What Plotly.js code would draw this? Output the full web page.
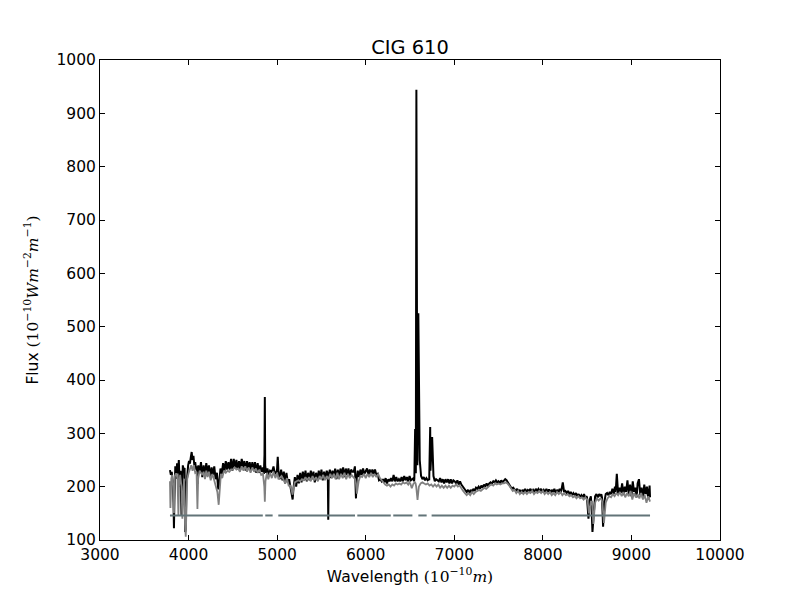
<!DOCTYPE html>
<html>
<head>
<meta charset="utf-8">
<script src="https://cdn.plot.ly/plotly-3.0.1.min.js"></script>
<style>html,body{margin:0;padding:0;background:#fff;}#chart{width:800px;height:600px;}</style>
</head>
<body>
<div id="chart"></div>
<script>
// Observed spectrum (black)
const obsWave = [3790,3800,3810,3820,3830,3835,3840,3850,3860,3870,3880,3890,3900,3910,3920,3925,3935,3945,3955,3962,3968,3975,3985,3995,4005,4015,4025,4035,4045,4055,4065,4075,4085,4095,4102,4110,4125,4140,4155,4170,4185,4200,4215,4230,4245,4260,4275,4290,4305,4320,4335,4345,4360,4375,4390,4405,4420,4435,4450,4465,4480,4495,4510,4525,4540,4555,4570,4585,4600,4615,4630,4645,4660,4675,4690,4705,4720,4735,4750,4765,4780,4795,4810,4825,4840,4850,4857,4861,4865,4875,4890,4905,4920,4935,4950,4959,4970,4985,4998,5007,5015,5030,5045,5060,5075,5090,5105,5120,5135,5150,5165,5175,5185,5200,5215,5230,5245,5260,5275,5290,5305,5320,5335,5350,5365,5380,5395,5410,5425,5440,5455,5470,5485,5500,5515,5530,5545,5560,5572,5577,5582,5595,5610,5625,5640,5655,5670,5685,5700,5715,5730,5745,5760,5775,5790,5805,5820,5835,5850,5865,5878,5890,5898,5910,5925,5940,5955,5970,5985,6000,6015,6030,6045,6060,6075,6090,6105,6120,6135,6150,6165,6180,6195,6210,6225,6240,6255,6270,6285,6300,6315,6330,6345,6360,6375,6390,6405,6420,6435,6450,6465,6480,6495,6510,6525,6540,6546,6549,6552,6558,6563,6566,6572,6580,6583,6587,6594,6610,6625,6640,6655,6670,6685,6700,6714,6717,6721,6728,6731,6735,6750,6765,6780,6795,6810,6825,6840,6855,6870,6885,6900,6915,6930,6945,6960,6975,6990,7005,7020,7035,7050,7065,7080,7095,7110,7125,7140,7155,7170,7185,7200,7215,7230,7245,7260,7275,7290,7305,7320,7335,7350,7365,7380,7395,7410,7425,7440,7455,7470,7485,7500,7515,7530,7545,7560,7575,7590,7605,7620,7635,7650,7665,7680,7695,7710,7725,7740,7755,7770,7785,7800,7815,7830,7845,7860,7875,7890,7905,7920,7935,7950,7965,7980,7995,8010,8025,8040,8055,8070,8085,8100,8115,8130,8145,8160,8175,8190,8200,8210,8225,8240,8255,8270,8285,8300,8315,8330,8345,8360,8375,8390,8405,8420,8435,8450,8465,8480,8492,8498,8504,8515,8528,8542,8550,8560,8575,8590,8605,8620,8635,8650,8660,8668,8680,8695,8710,8725,8740,8755,8770,8785,8800,8814,8822,8835,8850,8865,8880,8895,8910,8925,8940,8955,8970,8985,9000,9015,9030,9045,9059,9070,9085,9100,9115,9130,9145,9160,9175,9190,9205,9210];
const obsFlux = [231,222,228,210,170,122,175,238,215,244,225,250,200,230,145,200,240,232,235,115,120,200,225,240,248,243,255,265,250,258,240,246,232,238,205,240,226,246,218,240,222,244,226,240,218,236,222,238,214,226,195,205,234,224,244,228,248,232,246,232,252,230,252,234,250,232,248,232,252,236,248,230,248,234,246,230,246,232,246,226,244,226,240,228,236,224,260,368,240,226,234,222,230,228,232,238,228,225,230,256,228,214,232,212,228,206,226,208,214,200,190,176,198,218,200,222,206,226,208,228,212,230,210,226,212,230,214,228,208,226,212,230,214,232,212,228,214,230,222,138,222,232,216,230,218,234,214,232,218,234,222,236,218,234,222,234,220,232,228,228,238,178,215,230,218,232,222,234,224,228,234,222,232,222,232,224,232,222,224,212,214,210,214,208,216,206,214,210,216,210,222,210,218,210,214,210,218,210,220,212,218,210,220,212,214,216,210,215,250,308,240,225,944,300,240,300,525,250,220,214,218,212,216,212,214,212,250,312,230,240,293,220,210,214,212,210,216,208,214,206,214,208,214,206,214,206,212,210,206,212,204,210,204,200,196,192,190,194,188,194,190,196,192,198,196,200,196,202,198,204,200,206,202,206,208,206,210,208,212,208,210,206,212,208,212,214,212,208,204,200,196,198,194,192,196,190,194,188,194,190,196,190,194,192,196,190,194,190,196,192,196,192,196,190,194,190,196,190,195,188,194,190,196,188,194,190,196,188,194,208,190,192,188,192,186,190,184,188,184,188,182,186,180,184,180,186,178,182,180,168,140,175,182,160,115,150,182,186,180,186,182,186,180,125,172,186,188,184,190,186,196,186,200,190,224,186,198,188,206,184,200,190,212,186,204,182,210,190,198,180,206,214,184,198,178,204,186,200,176,202,180,190,178];

// Model spectrum (gray)
const modWave = [3790,3795,3805,3815,3825,3835,3845,3860,3875,3885,3892,3905,3920,3930,3938,3950,3960,3968,3975,3985,4000,4015,4030,4045,4060,4075,4090,4100,4108,4125,4140,4155,4170,4185,4200,4215,4230,4250,4270,4290,4310,4325,4340,4350,4365,4380,4400,4420,4440,4460,4480,4500,4520,4540,4560,4580,4600,4620,4640,4660,4680,4700,4720,4740,4760,4780,4800,4820,4840,4855,4861,4868,4885,4900,4920,4940,4960,4980,5000,5015,5030,5050,5070,5090,5110,5130,5150,5165,5175,5185,5200,5220,5240,5260,5280,5300,5320,5340,5360,5380,5400,5420,5440,5460,5480,5500,5520,5540,5560,5580,5600,5620,5640,5660,5680,5700,5720,5740,5760,5780,5800,5820,5840,5860,5880,5890,5900,5920,5940,5960,5980,6000,6020,6040,6060,6080,6100,6120,6140,6160,6180,6200,6220,6240,6260,6280,6300,6320,6340,6360,6380,6400,6420,6440,6460,6480,6493,6505,6520,6540,6555,6563,6570,6585,6600,6620,6640,6660,6680,6700,6720,6740,6760,6780,6800,6820,6840,6860,6880,6900,6920,6940,6960,6980,7000,7020,7040,7060,7080,7100,7120,7140,7160,7180,7200,7220,7240,7260,7280,7300,7320,7340,7360,7380,7400,7420,7440,7460,7480,7500,7520,7540,7560,7580,7600,7620,7640,7660,7680,7700,7720,7740,7760,7780,7800,7820,7840,7860,7880,7900,7920,7940,7960,7980,8000,8020,8040,8060,8080,8100,8120,8140,8160,8180,8200,8220,8240,8260,8280,8300,8320,8340,8360,8380,8400,8420,8440,8460,8480,8494,8504,8520,8542,8555,8570,8590,8610,8630,8650,8662,8672,8690,8710,8730,8750,8770,8790,8810,8830,8850,8870,8890,8910,8930,8950,8970,8990,9010,9030,9050,9070,9090,9110,9130,9150,9170,9190,9210];
const modFlux = [210,160,215,222,200,150,220,225,215,147,200,222,200,140,180,215,130,106,150,215,225,232,240,230,240,226,228,158,215,230,226,222,228,214,230,218,228,212,224,210,200,190,166,200,224,216,230,226,230,228,232,232,236,232,234,228,238,230,238,228,236,226,236,228,234,226,232,222,224,200,172,210,226,214,226,216,228,216,226,214,216,220,214,206,216,202,202,192,185,196,208,210,212,210,214,212,218,212,218,210,220,212,218,210,220,214,222,212,220,214,224,216,224,214,226,214,224,216,226,214,224,216,222,218,214,206,187,210,220,218,224,216,224,218,226,218,224,218,224,216,212,206,204,202,204,200,204,202,206,204,206,204,208,206,208,204,208,205,197,206,208,206,200,175,200,206,208,206,204,206,202,204,200,204,200,204,198,202,198,202,198,202,198,202,200,204,200,202,196,192,188,184,188,184,190,186,190,192,194,192,196,198,196,200,202,204,202,206,204,206,204,206,206,208,206,202,198,192,194,188,192,186,190,186,190,186,190,188,192,186,190,188,192,188,192,186,190,186,190,184,188,184,190,186,190,184,188,184,186,182,184,180,182,178,182,178,180,176,180,176,176,150,172,172,130,170,178,174,178,176,170,132,170,178,182,180,186,182,188,184,190,182,190,180,188,182,192,176,188,180,186,178,188,176,184,170,182,172,184,176];

// Line mask (constant level with gaps at emission lines)
const maskWave = [3790,4838,null,4866,4949,null,5013,5879,null,5905,6283,null,6311,6527,null,6594,6688,null,6744,9210];
const maskFlux = [146,146,null,146,146,null,146,146,null,146,146,null,146,146,null,146,146,null,146,146];

const chartTitle = 'CIG 610';
const xLabel = 'Wavelength <span style="font-family:\'DejaVu Serif\'">(10<sup>−10</sup><i>m</i>)</span>';
const yLabel = 'Flux <span style="font-family:\'DejaVu Serif\'">(10<sup>−10</sup><i>Wm</i><sup>−2</sup><i>m</i><sup>−1</sup>)</span>';

const traces = [
  {x: obsWave, y: obsFlux, type: 'scatter', mode: 'lines', line: {color: '#000000', width: 2}, hoverinfo: 'skip'},
  {x: modWave, y: modFlux, type: 'scatter', mode: 'lines', line: {color: '#808080', width: 1.8}, hoverinfo: 'skip'},
  {x: maskWave, y: maskFlux, type: 'scatter', mode: 'lines', connectgaps: false, line: {color: '#627478', width: 2}, hoverinfo: 'skip'}
];

const axisCommon = {
  showgrid: false, zeroline: false, showline: true, linecolor: '#000', linewidth: 1,
  mirror: 'ticks', ticks: 'inside', ticklen: 5, tickcolor: '#000', tickwidth: 1,
  tickformat: 'd', separatethousands: false,
  tickfont: {family: 'DejaVu Sans', size: 15.5, color: '#000'}
};

const layout = {
  width: 800, height: 600,
  paper_bgcolor: '#fff', plot_bgcolor: '#fff',
  showlegend: false,
  margin: {l: 100, r: 80, t: 60, b: 60},
  font: {family: 'DejaVu Sans', color: '#000'},
  title: {text: chartTitle, font: {family: 'DejaVu Sans', size: 19.4, color: '#000'}, x: 0.5125, xanchor: 'center', y: 1 - 47/600, yref: 'container', yanchor: 'middle'},
  xaxis: Object.assign({}, axisCommon, {range: [3000, 10000], dtick: 1000, tick0: 3000,
    title: {text: xLabel, font: {family: 'DejaVu Sans', size: 15.5, color: '#000'}, standoff: 8}}),
  yaxis: Object.assign({}, axisCommon, {range: [100, 1000], dtick: 100, tick0: 100,
    title: {text: yLabel, font: {family: 'DejaVu Sans', size: 15.5, color: '#000'}, standoff: 14}})
};

Plotly.newPlot('chart', traces, layout, {staticPlot: true, displayModeBar: false});
</script>
</body>
</html>
